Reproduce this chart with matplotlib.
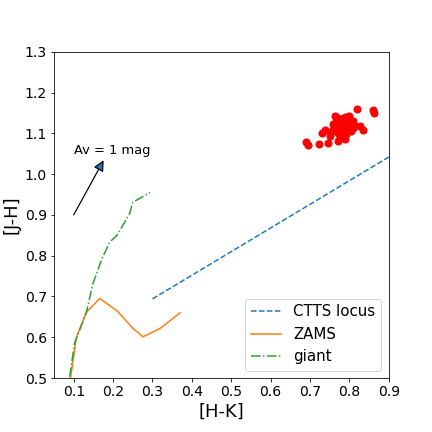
import numpy as np
import matplotlib
matplotlib.use("Agg")
import matplotlib.pyplot as plt

# ZAMS track
zams_hk = [0.092, 0.107, 0.132, 0.166, 0.211, 0.250, 0.276, 0.320, 0.370]
zams_jh = [0.500, 0.600, 0.661, 0.695, 0.664, 0.622, 0.601, 0.622, 0.660]

# giant branch
giant_hk = [0.090, 0.102, 0.132, 0.149, 0.172, 0.191, 0.210, 0.242, 0.250, 0.294]
giant_jh = [0.503, 0.585, 0.660, 0.732, 0.793, 0.833, 0.850, 0.903, 0.931, 0.955]

# CTTS locus end points (Meyer et al. 1997)
ctts_hk = [0.30, 1.00]
ctts_jh = [0.694, 1.100]

# observed sources
obs_hk = [0.690, 0.694, 0.723, 0.746, 0.730, 0.738, 0.750, 0.772, 0.789, 0.763,
          0.772, 0.800, 0.818, 0.859, 0.862, 0.835, 0.826, 0.805, 0.813, 0.810,
          0.780, 0.775, 0.785, 0.790, 0.770, 0.765, 0.795, 0.760, 0.782, 0.778,
          0.768, 0.792, 0.798, 0.755, 0.784, 0.774, 0.802, 0.788, 0.776, 0.766,
          0.808, 0.758, 0.786, 0.771]
obs_jh = [1.078, 1.072, 1.075, 1.077, 1.100, 1.109, 1.093, 1.081, 1.085, 1.142,
          1.138, 1.142, 1.161, 1.158, 1.150, 1.109, 1.117, 1.105, 1.117, 1.130,
          1.113, 1.120, 1.105, 1.125, 1.100, 1.128, 1.110, 1.115, 1.135, 1.095,
          1.108, 1.098, 1.130, 1.105, 1.118, 1.132, 1.122, 1.140, 1.090, 1.118,
          1.112, 1.122, 1.102, 1.125]

# reddening vector
av_start = (0.100, 0.900)
av_end = (0.176, 1.034)

fig, ax = plt.subplots(figsize=(6, 6), dpi=72)
fig.subplots_adjust(left=0.125, right=0.9, top=0.88, bottom=0.125)

ax.plot(ctts_hk, ctts_jh, "--", color="C0", label="CTTS locus")
ax.plot(zams_hk, zams_jh, "-", color="C1", label="ZAMS")
ax.plot(giant_hk, giant_jh, "-.", color="C2", label="giant")
ax.scatter(obs_hk, obs_jh, color="red", s=50, zorder=3)

ax.annotate("", xy=av_end, xytext=av_start,
            arrowprops=dict(arrowstyle="-|>", fc="C0", ec="k", lw=1.2,
                            mutation_scale=22, shrinkA=0, shrinkB=0))
ax.text(0.1, 1.05, "Av = 1 mag", fontsize=13)

ax.set_xlim(0.05, 0.9)
ax.set_ylim(0.5, 1.3)
ax.set_xticks(np.arange(0.1, 0.91, 0.1))
ax.tick_params(labelsize=14)
ax.set_xlabel("[H-K]", fontsize=18)
ax.set_ylabel("[J-H]", fontsize=18)
ax.legend(loc="lower right", fontsize=15)

plt.savefig("out.png")
